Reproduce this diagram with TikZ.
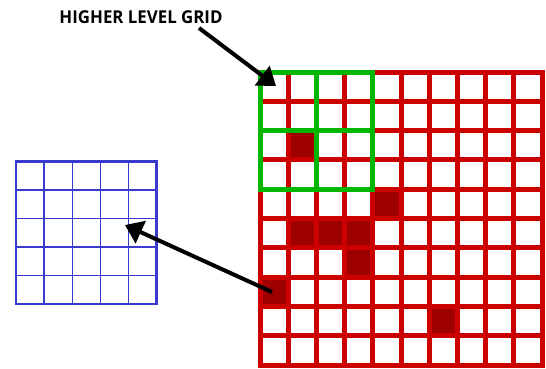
\documentclass[tikz,border=0pt]{standalone}
\usepackage{fontspec}
\setmainfont{Open Sans}
\usetikzlibrary{arrows.meta}
\definecolor{gridred}{RGB}{204,0,0}
\definecolor{cellred}{RGB}{158,0,0}
\definecolor{gridgreen}{RGB}{0,182,0}
\definecolor{gridblue}{RGB}{58,58,208}
\tikzset{
    finegrid/.style={draw=gridred, line width=3.75pt},
    coarsegrid/.style={draw=gridgreen, line width=3.75pt},
    lowgrid/.style={draw=gridblue, line width=1.1pt},
    lowframe/.style={draw=gridblue, line width=2.2pt},
    hotcell/.style={fill=cellred},
    pointer/.style={draw=black, line width=3pt, -{Triangle[length=13pt, width=18pt]}},
    caption/.style={font=\bfseries\fontsize{13.3}{16}\selectfont, inner sep=0pt, xscale=0.95}
}

\begin{document}
\begin{tikzpicture}[x=0.75pt, y=-0.75pt]
    \useasboundingbox[fill=white] (0,0) rectangle (546,368);
    % coarse level grid (blue)
    \foreach \i in {1,...,4} {
        \draw[lowgrid] (16+28.14*\i,161.7) -- (16+28.14*\i,304);
        \draw[lowgrid] (16,161.7+28.46*\i) -- (156.7,161.7+28.46*\i);
    }
    \draw[lowframe] (16,161.7) rectangle (156.7,304);
    % marked cells of the fine grid
    \foreach \c/\r in {1/2, 4/4, 1/5, 2/5, 3/5, 3/6, 0/7, 6/8}
        \fill[hotcell] (260+28.2*\c,72+29.3*\r) rectangle ++(28.2,29.3);
    % fine grid (red)
    \foreach \i in {1,...,9} {
        \draw[finegrid] (260+28.2*\i,72) -- (260+28.2*\i,365);
        \draw[finegrid] (260,72+29.3*\i) -- (542,72+29.3*\i);
    }
    \draw[finegrid] (260,72) rectangle (542,365);
    % higher level grid (green)
    \draw[coarsegrid] (260,72) rectangle (372.8,189.2);
    \draw[coarsegrid] (316.4,72) -- (316.4,189.2);
    \draw[coarsegrid] (260,130.6) -- (372.8,130.6);
    % labels and pointers
    \node[caption] (higher) at (141,17) {HIGHER LEVEL GRID};
    \coordinate (higher tail) at (199,28);
    \coordinate (higher tip) at (276,86);
    \coordinate (low tail) at (272,292);
    \coordinate (low tip) at (125,225);
    \draw[pointer] (higher tail) -- (higher tip);
    \draw[pointer] (low tail) -- (low tip);
\end{tikzpicture}
\end{document}
